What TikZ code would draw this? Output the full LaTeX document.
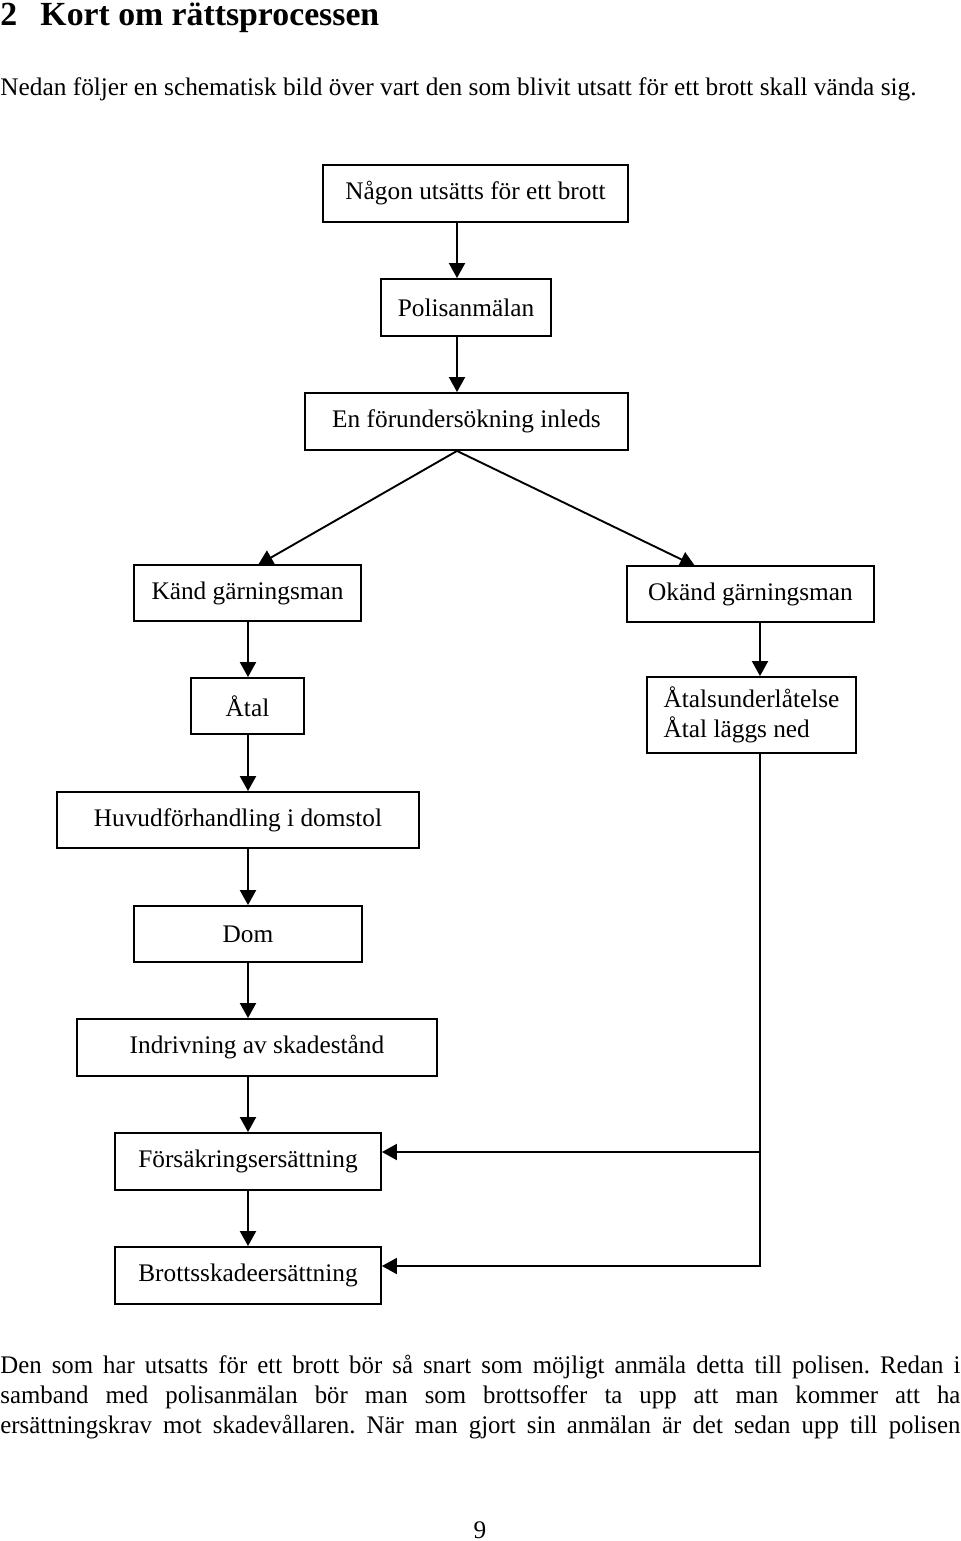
\documentclass[tikz,border=0pt]{standalone}
\usepackage{fontspec}
\setmainfont{Liberation Serif}
\newfontfamily\narrowserif[FakeStretch=0.98]{Liberation Serif}
\usetikzlibrary{arrows.meta}
\newdimen\pxu
\pxu=0.474pt
\newcommand{\parline}[1]{\makebox[455pt][s]{\narrowserif\frenchspacing #1}}

\begin{document}
\begin{tikzpicture}[x=\pxu,y=-\pxu]
    \tikzset{box/.style={draw, line width=0.9pt, inner sep=0pt, font=\fontsize{12}{14}\selectfont},
             flow/.style={line width=0.9pt, -{Triangle[width=7.6pt,length=7.1pt]}},
             plain/.style={inner sep=0pt, font=\fontsize{12}{14}\selectfont}}
    \useasboundingbox (0,0) rectangle (960,1541);
    \node[plain, anchor=base west, font=\fontsize{16}{19}\selectfont\bfseries] (rubrik) at (0,26) {\makebox[19pt][l]{2}Kort om rättsprocessen};
    \node[plain, anchor=base west] (ingress) at (0,96) {Nedan följer en schematisk bild över vart den som blivit utsatt för ett brott skall vända sig.};
     \node[box, minimum width=305*\pxu, minimum height=57*\pxu] (brott) at (475.5,193.5) {Någon utsätts för ett brott};
     \node[box, minimum width=170*\pxu, minimum height=57*\pxu] (polis) at (466,307.5) {Polisanmälan};
     \node[box, minimum width=323*\pxu, minimum height=57*\pxu] (forund) at (466.5,421.5) {En förundersökning inleds};
     \node[box, minimum width=227*\pxu, minimum height=56*\pxu] (kand) at (247.5,593) {Känd gärningsman};
     \node[box, minimum width=247*\pxu, minimum height=56*\pxu] (okand) at (750.5,594) {Okänd gärningsman};
     \node[box, minimum width=113*\pxu, minimum height=56*\pxu] (atal) at (247.5,706) {Åtal};
     \node[box, minimum width=209*\pxu, minimum height=76*\pxu, align=left] (underl) at (751.5,715) {Åtalsunderlåtelse\\Åtal läggs ned};
     \node[box, minimum width=362*\pxu, minimum height=56*\pxu] (huvud) at (238,820) {Huvudförhandling i domstol};
     \node[box, minimum width=228*\pxu, minimum height=56*\pxu] (dom) at (248,934) {Dom};
     \node[box, minimum width=360*\pxu, minimum height=57*\pxu] (indriv) at (257,1047.5) {Indrivning av skadestånd};
     \node[box, minimum width=266*\pxu, minimum height=57*\pxu] (forsak) at (248,1161.5) {Försäkringsersättning};
     \node[box, minimum width=266*\pxu, minimum height=57*\pxu] (brottsk) at (248,1275.5) {Brottsskadeersättning};
    \coordinate (mcol) at (457,0);
    \coordinate (lcol) at (248,0);
    \coordinate (rcol) at (760,0);
    \coordinate (kandtip) at (258,565);
    \coordinate (okandtip) at (695,566);
    \coordinate (fjoin) at (760,1152);
    \coordinate (bjoin) at (760,1266);
  \draw[flow] (brott.south -| mcol) -- (polis.north -| mcol);
  \draw[flow] (polis.south -| mcol) -- (forund.north -| mcol);
  \draw[flow] (forund.south -| mcol) -- (kandtip);
  \draw[flow] (forund.south -| mcol) -- (okandtip);
  \draw[flow] (okand.south -| rcol) -- (underl.north -| rcol);
  \draw[flow] (kand.south -| lcol) -- (atal.north -| lcol);
  \draw[flow] (atal.south -| lcol) -- (huvud.north -| lcol);
  \draw[flow] (huvud.south -| lcol) -- (dom.north -| lcol);
  \draw[flow] (dom.south -| lcol) -- (indriv.north -| lcol);
  \draw[flow] (indriv.south -| lcol) -- (forsak.north -| lcol);
  \draw[flow] (forsak.south -| lcol) -- (brottsk.north -| lcol);
  % sidospåret utan känd gärningsman
  \draw[flow] (underl.south -| rcol) |- (brottsk.east |- bjoin);
  \draw[flow] (fjoin) -- (forsak.east |- fjoin);
    \node[plain, anchor=base west] (rad1) at (0,1373) {\parline{Den som har utsatts för ett brott bör så snart som möjligt anmäla detta till polisen. Redan i}};
    \node[plain, anchor=base west] (rad2) at (0,1403) {\parline{samband med polisanmälan bör man som brottsoffer ta upp att man kommer att ha}};
    \node[plain, anchor=base west] (rad3) at (0,1433) {\parline{ersättningskrav mot skadevållaren. När man gjort sin anmälan är det sedan upp till polisen}};
    \node[plain, anchor=base] (sida) at (480,1538) {9};
\end{tikzpicture}
\end{document}
